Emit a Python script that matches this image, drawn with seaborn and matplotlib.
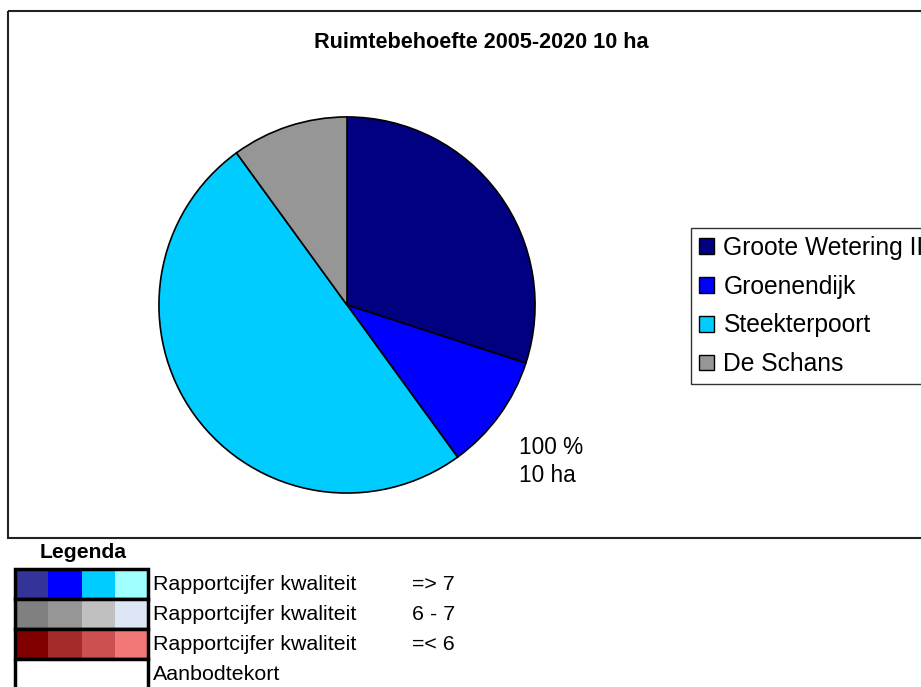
import matplotlib
matplotlib.use("Agg")
import matplotlib.pyplot as plt
import seaborn as sns
from matplotlib.patches import Rectangle

# Pie data (ha)
locaties = ["Groote Wetering II", "Groenendijk", "Steekterpoort", "De Schans"]
ruimte_ha = [3, 1, 5, 1]
pie_kleuren = ["#000080", "#0000FF", "#00CCFF", "#969696"]

# Legend table below the chart
legenda_rijen = ["Rapportcijfer kwaliteit", "Rapportcijfer kwaliteit",
                 "Rapportcijfer kwaliteit", "Aanbodtekort"]
legenda_grens = ["=> 7", "6 - 7", "=< 6", ""]
legenda_kleuren = [
    ["#333399", "#0000FF", "#00CCFF", "#A0FFFF"],
    ["#808080", "#969696", "#C0C0C0", "#DDE6F4"],
    ["#800000", "#A52A2A", "#CC5050", "#F27777"],
    ["#FFFFFF", "#FFFFFF", "#FFFFFF", "#FFFFFF"],
]

sns.set_style("white")
plt.rcParams["font.family"] = ["Liberation Sans", "DejaVu Sans"]
plt.rcParams["text.color"] = "black"

W, H = 921, 687
fig = plt.figure(figsize=(W / 100, H / 100), dpi=100)

# overlay axes in pixel coordinates for frame, title and table legend
over = fig.add_axes([0, 0, 1, 1])
over.set_xlim(0, W)
over.set_ylim(H, 0)
over.axis("off")

# chart area border (runs off the right edge)
over.add_patch(Rectangle((8, 11), 940, 527, fill=False, edgecolor="#222222", lw=1.5))
over.text(481, 43, "Ruimtebehoefte 2005-2020 10 ha", ha="center", va="center",
          fontsize=15.6, fontweight="bold")

# pie
cx, cy, r = 347, 305, 189
ax = fig.add_axes([(cx - r) / W, 1 - (cy + r) / H, 2 * r / W, 2 * r / H])
wedges, _ = ax.pie(ruimte_ha, colors=pie_kleuren, startangle=90, counterclock=False,
                   wedgeprops=dict(edgecolor="black", linewidth=1.2))
ax.set_xlim(-1.005, 1.005)
ax.set_ylim(-1.005, 1.005)
ax.set_aspect("equal")

over.text(519, 447, "100 %", ha="left", va="center", fontsize=16.3)
over.text(519, 475, "10 ha", ha="left", va="center", fontsize=16.3)

leg = fig.legend(wedges, locaties, loc="upper left",
                 bbox_to_anchor=(691 / W, 1 - 228 / H), frameon=True, fancybox=False,
                 edgecolor="black", fontsize=17.7, handlelength=0.6, handleheight=0.6,
                 handletextpad=0.4, labelspacing=0.6, borderpad=0.32, borderaxespad=0)
leg.get_frame().set_linewidth(1.0)
for h in leg.legend_handles:
    h.set_edgecolor("black")
    h.set_linewidth(1.0)

# bottom table legend
over.text(83, 553, "Legenda", ha="center", va="center", fontsize=15.2, fontweight="bold")
x0, y0, cw, rh = 15, 569, 33.3, 30
for i, rij in enumerate(legenda_kleuren):
    for j, kleur in enumerate(rij):
        over.add_patch(Rectangle((x0 + j * cw, y0 + i * rh), cw, rh, facecolor=kleur,
                                 edgecolor="none"))
    over.add_patch(Rectangle((x0, y0 + i * rh), 4 * cw, rh, fill=False,
                             edgecolor="black", lw=2.5))
    over.text(153, y0 + i * rh + 16, legenda_rijen[i], ha="left", va="center", fontsize=15.4)
    over.text(412, y0 + i * rh + 16, legenda_grens[i], ha="left", va="center", fontsize=15.4)

fig.savefig("out.png", dpi=100)
